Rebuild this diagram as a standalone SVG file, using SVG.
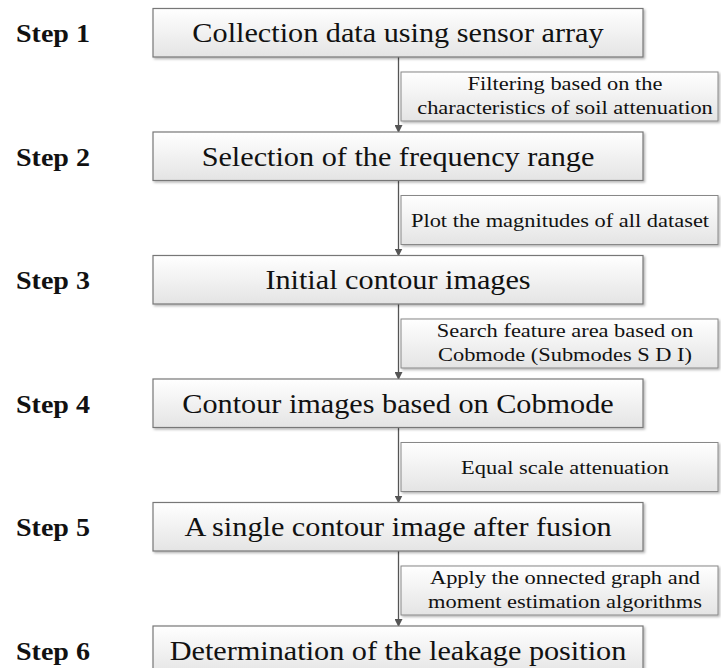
<svg xmlns="http://www.w3.org/2000/svg" width="721" height="668" viewBox="0 0 721 668">
<defs>
<linearGradient id="g" x1="0" y1="0" x2="0" y2="1">
<stop offset="0" stop-color="#ffffff"/>
<stop offset="1" stop-color="#e4e4e4"/>
</linearGradient>
<filter id="sh" x="-5%" y="-10%" width="110%" height="130%">
<feDropShadow dx="1.5" dy="1.5" stdDeviation="0.8" flood-color="#000" flood-opacity="0.3"/>
</filter>
<marker id="ar" markerWidth="8" markerHeight="8" refX="7" refY="4" orient="auto" markerUnits="userSpaceOnUse">
<path d="M0,0 L8,4 L0,8 z" fill="#555"/>
</marker>
<style>
.box{fill:url(#g);stroke:#777;stroke-width:1.2;filter:url(#sh)}
.lbl{fill:url(#g);stroke:#888;stroke-width:1;filter:url(#sh)}
.main{font-family:"Liberation Serif","DejaVu Serif",serif;font-size:28px;fill:#111;text-anchor:middle}
.small{font-family:"Liberation Serif","DejaVu Serif",serif;font-size:19.5px;fill:#111;text-anchor:middle}
.step{font-family:"Liberation Serif","DejaVu Serif",serif;font-size:26px;font-weight:bold;fill:#111}
.con{stroke:#555;stroke-width:1.3;fill:none;marker-end:url(#ar)}
</style>
</defs>
<g id="connectors">
<line class="con" x1="398.5" y1="57" x2="398.5" y2="132"/>
<line class="con" x1="398.5" y1="180.5" x2="398.5" y2="255.5"/>
<line class="con" x1="398.5" y1="304" x2="398.5" y2="379"/>
<line class="con" x1="398.5" y1="427.5" x2="398.5" y2="502.5"/>
<line class="con" x1="398.5" y1="551" x2="398.5" y2="626"/>
</g>
<g id="step1"><text class="step" x="16" y="42" textLength="74" lengthAdjust="spacingAndGlyphs">Step 1</text><rect class="box" x="153" y="8.5" width="490" height="48.5"/><text class="main" transform="translate(398,42) scale(1.08,1)">Collection data using sensor array</text></g>
<g id="label1"><rect class="lbl" x="401" y="72" width="317" height="49"/><text class="small" transform="translate(565,90) scale(1.15,1)">Filtering based on the</text><text class="small" transform="translate(565,114) scale(1.15,1)">characteristics of soil attenuation</text></g>
<g id="step2"><text class="step" x="16" y="165.5" textLength="74" lengthAdjust="spacingAndGlyphs">Step 2</text><rect class="box" x="153" y="132" width="490" height="48.5"/><text class="main" transform="translate(398,165.5) scale(1.08,1)">Selection of the frequency range</text></g>
<g id="label2"><rect class="lbl" x="401" y="195.5" width="317" height="49"/><text class="small" transform="translate(560,226.5) scale(1.15,1)">Plot the magnitudes of all dataset</text></g>
<g id="step3"><text class="step" x="16" y="289" textLength="74" lengthAdjust="spacingAndGlyphs">Step 3</text><rect class="box" x="153" y="255.5" width="490" height="48.5"/><text class="main" transform="translate(398,289) scale(1.08,1)">Initial contour images</text></g>
<g id="label3"><rect class="lbl" x="401" y="319" width="317" height="49"/><text class="small" transform="translate(565,337) scale(1.15,1)">Search feature area based on</text><text class="small" transform="translate(565,361) scale(1.15,1)">Cobmode (Submodes S D I)</text></g>
<g id="step4"><text class="step" x="16" y="412.5" textLength="74" lengthAdjust="spacingAndGlyphs">Step 4</text><rect class="box" x="153" y="379" width="490" height="48.5"/><text class="main" transform="translate(398,412.5) scale(1.08,1)">Contour images based on Cobmode</text></g>
<g id="label4"><rect class="lbl" x="401" y="442.5" width="317" height="49"/><text class="small" transform="translate(565,473.5) scale(1.15,1)">Equal scale attenuation</text></g>
<g id="step5"><text class="step" x="16" y="536" textLength="74" lengthAdjust="spacingAndGlyphs">Step 5</text><rect class="box" x="153" y="502.5" width="490" height="48.5"/><text class="main" transform="translate(398,536) scale(1.08,1)">A single contour image after fusion</text></g>
<g id="label5"><rect class="lbl" x="401" y="566" width="317" height="49"/><text class="small" transform="translate(565,584) scale(1.15,1)">Apply the onnected graph and</text><text class="small" transform="translate(565,608) scale(1.15,1)">moment estimation algorithms</text></g>
<g id="step6"><text class="step" x="16" y="659.5" textLength="74" lengthAdjust="spacingAndGlyphs">Step 6</text><rect class="box" x="153" y="626" width="490" height="50"/><text class="main" transform="translate(398,659.5) scale(1.08,1)">Determination of the leakage position</text></g>
</svg>
